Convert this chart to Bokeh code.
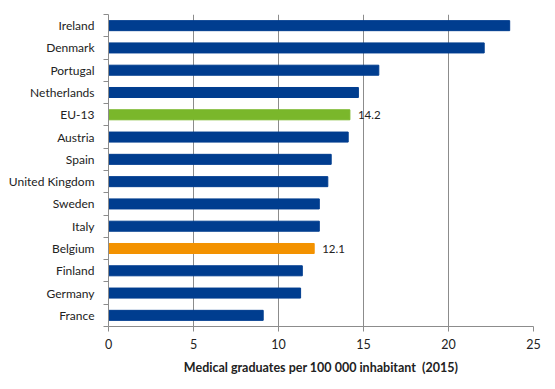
from bokeh.plotting import figure
from bokeh.models import ColumnDataSource, FixedTicker, Label
from bokeh.embed import file_html
from bokeh.resources import INLINE

countries = ["Ireland", "Denmark", "Portugal", "Netherlands", "EU-13", "Austria", "Spain",
             "United Kingdom", "Sweden", "Italy", "Belgium", "Finland", "Germany", "France"]
values = [23.6, 22.1, 15.9, 14.7, 14.2, 14.1, 13.1, 12.9, 12.4, 12.4, 12.1, 11.4, 11.3, 9.1]
highlight = {"EU-13": "#7ab72b", "Belgium": "#f39200"}
labelled = ["EU-13", "Belgium"]
x_ticks = [0, 5, 10, 15, 20, 25]

NAVY = "#003d8f"
n = len(countries)
ypos = [n - 0.5 - i for i in range(n)]
colors = [highlight.get(c, NAVY) for c in countries]
src = ColumnDataSource(dict(y=ypos, v=values, c=colors, name=countries))

FONT = "Lato"
p = figure(width=547, height=380,
           x_range=(0, 25), y_range=(0, n),
           output_backend="svg", toolbar_location=None,
           min_border_left=108, min_border_right=14, min_border_top=14, min_border_bottom=54)
p.outline_line_color = None
p.background_fill_color = "white"

p.hbar(y="y", left=0, right="v", height=0.45, color="c", source=src)

for i, c in enumerate(countries):
    if c in labelled:
        p.add_layout(Label(x=values[i], y=ypos[i], text=f"{values[i]:.1f}", x_offset=8,
                           text_baseline="middle", text_font=FONT, text_font_size="11.5px",
                           text_color="#222222"))

# x axis
p.xaxis.ticker = FixedTicker(ticks=x_ticks)
p.xaxis.axis_line_color = "#8c8c8c"
p.xaxis.major_tick_line_color = "#8c8c8c"
p.xaxis.major_tick_out = 5
p.xaxis.major_tick_in = 0
p.xaxis.minor_tick_line_color = None
p.xaxis.major_label_text_font = FONT
p.xaxis.major_label_text_font_size = "12.5px"
p.xaxis.major_label_text_color = "#222222"
p.xaxis.major_label_standoff = 7
p.xaxis.axis_label = "Medical graduates per 100 000 inhabitant \u00a0(2015)"
p.xaxis.axis_label_text_font = FONT
p.xaxis.axis_label_text_font_style = "bold"
p.xaxis.axis_label_text_font_size = "12.5px"
p.xaxis.axis_label_text_color = "#222222"
p.xaxis.axis_label_standoff = 8

# y axis
p.yaxis.ticker = FixedTicker(ticks=ypos, minor_ticks=list(range(n + 1)))
p.yaxis.major_label_overrides = {y: c for y, c in zip(ypos, countries)}
p.yaxis.axis_line_color = "#8c8c8c"
p.yaxis.major_tick_line_color = None
p.yaxis.minor_tick_line_color = "#8c8c8c"
p.yaxis.minor_tick_out = 5
p.yaxis.minor_tick_in = 0
p.yaxis.major_label_text_font = FONT
p.yaxis.major_label_text_font_size = "12px"
p.yaxis.major_label_text_color = "#222222"
p.yaxis.major_label_standoff = 8

# grid
p.xgrid.ticker = FixedTicker(ticks=x_ticks)
p.xgrid.grid_line_color = "#8c8c8c"
p.ygrid.grid_line_color = None

open("out.html", "w").write(file_html(p, INLINE))
